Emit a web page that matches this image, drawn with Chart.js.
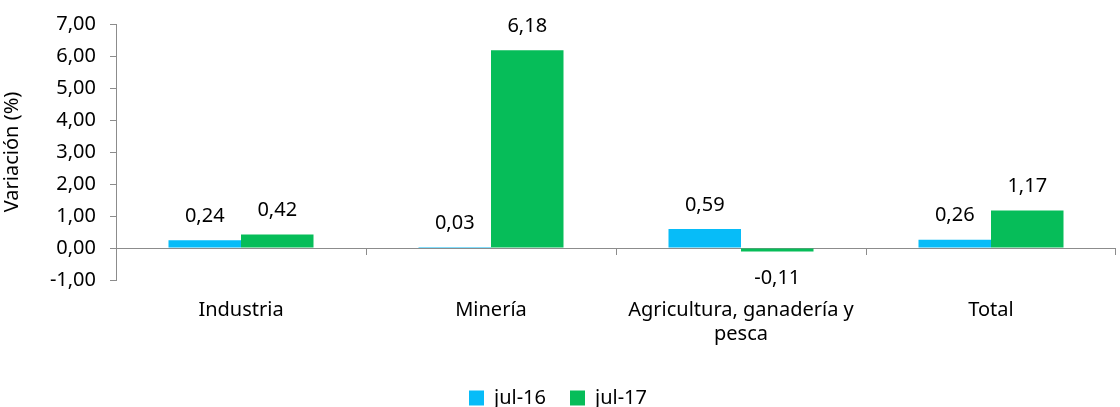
<!DOCTYPE html>
<html>
<head>
<meta charset="utf-8">
<script src="https://cdn.jsdelivr.net/npm/chart.js@4.4.1/dist/chart.umd.min.js"></script>
<style>
  html, body { margin: 0; padding: 0; background: #fff; }
  #wrap { width: 1120px; height: 407px; }
</style>
</head>
<body>
<div id="wrap"><canvas id="chart"></canvas></div>
<script>
/* ---------------- DATA ---------------- */
const categories = ["Industria", "Minería", ["Agricultura, ganadería y", "pesca"], "Total"];
const seriesNames = ["jul-16", "jul-17"];
const jul16 = [0.24, 0.03, 0.59, 0.26];
const jul17 = [0.42, 6.18, -0.11, 1.17];
const yTicks = { min: -1, max: 7, step: 1 };

const FONT = "'Noto Sans', sans-serif";
const AXIS_GRAY = "#8c8c8c";
const fmt = (v) => v.toFixed(2).replace(".", ",");

Chart.defaults.font.family = FONT;
Chart.defaults.color = "#000";

/* value labels above / below each bar */
const barLabels = {
  id: "barLabels",
  afterDatasetsDraw(chart) {
    const ctx = chart.ctx;
    ctx.save();
    ctx.font = "20px " + FONT;
    ctx.fillStyle = "#000";
    ctx.textAlign = "center";
    ctx.textBaseline = "middle";
    chart.data.datasets.forEach((ds, di) => {
      chart.getDatasetMeta(di).data.forEach((bar, i) => {
        const v = ds.data[i];
        const y = v >= 0 ? bar.y - 24 : bar.y + 27;
        ctx.fillText(fmt(v), bar.x, y);
      });
    });
    ctx.restore();
  },
};

/* tick marks between categories on the zero line */
const catTicks = {
  id: "catTicks",
  afterDraw(chart) {
    const x = chart.scales.x, y = chart.scales.y;
    const y0 = y.getPixelForValue(0);
    const ctx = chart.ctx;
    ctx.save();
    ctx.strokeStyle = AXIS_GRAY;
    ctx.lineWidth = 1;
    ctx.beginPath();
    for (let i = 1; i <= categories.length; i++) {
      const px = i < categories.length
        ? Math.round((x.getPixelForValue(i - 1) + x.getPixelForValue(i)) / 2) + 0.5
        : Math.round(chart.chartArea.right) - 0.5;
      ctx.moveTo(px, y0);
      ctx.lineTo(px, y0 + 7);
    }
    ctx.stroke();
    ctx.restore();
  },
};

new Chart(document.getElementById("chart"), {
  type: "bar",
  data: {
    labels: categories,
    datasets: [
      { label: seriesNames[0], data: jul16, backgroundColor: "#07bcf8" },
      { label: seriesNames[1], data: jul17, backgroundColor: "#06bd59" },
    ],
  },
  options: {
    responsive: true,
    maintainAspectRatio: false,
    animation: false,
    categoryPercentage: 0.58,
    barPercentage: 1,
    layout: { padding: { top: 22, right: 4, left: 0, bottom: -11 } },
    plugins: {
      tooltip: { enabled: false },
      legend: {
        position: "bottom",
        labels: {
          font: { size: 20 },
          boxWidth: 15,
          boxHeight: 15,
          padding: 24,
        },
      },
    },
    scales: {
      x: {
        grid: { display: false, drawTicks: false },
        border: { display: false },
        ticks: { font: { size: 20 }, padding: 18, maxRotation: 0, autoSkip: false },
      },
      y: {
        min: yTicks.min,
        max: yTicks.max,
        afterFit(scale) { scale.width = 116; },
        ticks: {
          stepSize: yTicks.step,
          font: { size: 20, lineHeight: 1 },
          padding: 14,
          callback: (v) => fmt(v),
        },
        border: { display: true, color: AXIS_GRAY },
        grid: {
          drawOnChartArea: true,
          color: (c) => (c.tick && c.tick.value === 0 ? AXIS_GRAY : "rgba(0,0,0,0)"),
          tickColor: AXIS_GRAY,
          tickLength: 6,
        },
        title: {
          display: true,
          text: "Variación (%)",
          font: { size: 20 },
          padding: { top: 0, bottom: 4 },
        },
      },
    },
  },
  plugins: [barLabels, catTicks],
});
</script>
</body>
</html>
